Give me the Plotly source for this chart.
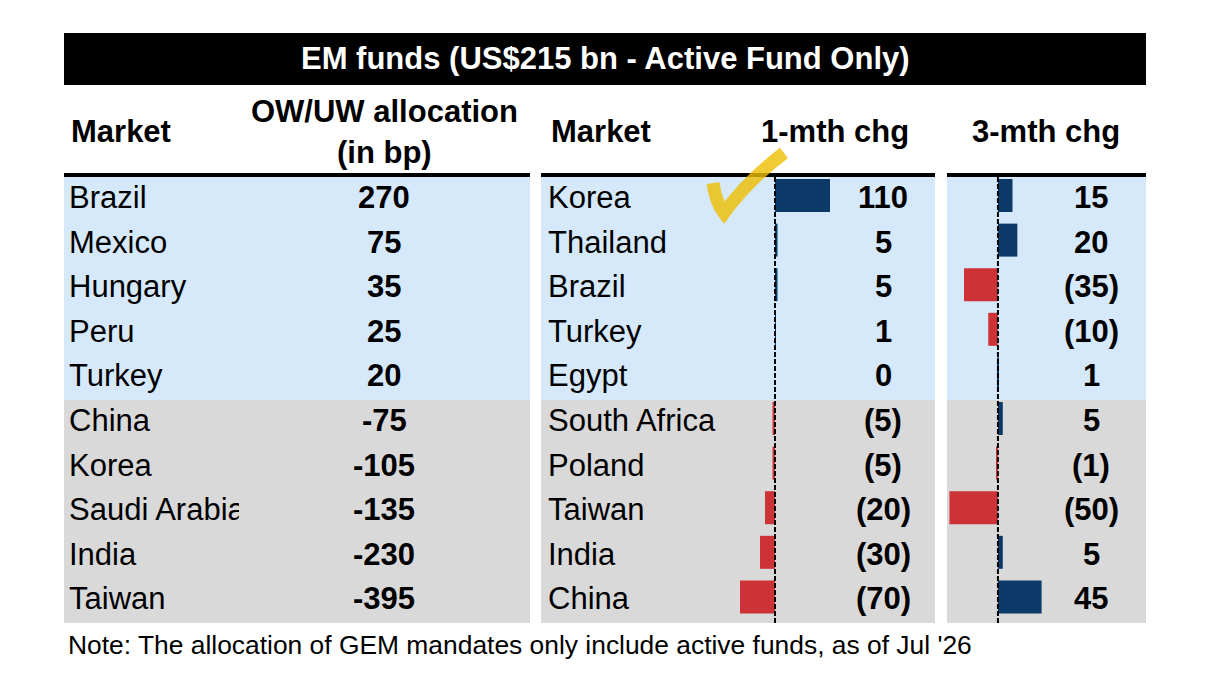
import plotly.graph_objects as go

# the page body adds an 8px margin, so the figure is a little smaller than the window
W, H = 1190, 663
OFF = 8

# OW/UW allocation block
alloc_markets = ["Brazil", "Mexico", "Hungary", "Peru", "Turkey",
                 "China", "Korea", "Saudi Arabia", "India", "Taiwan"]
alloc_bp = [270, 75, 35, 25, 20, -75, -105, -135, -230, -395]

# change block
chg_markets = ["Korea", "Thailand", "Brazil", "Turkey", "Egypt",
               "South Africa", "Poland", "Taiwan", "India", "China"]
chg_1m = [110, 5, 5, 1, 0, -5, -5, -20, -30, -70]
chg_3m = [15, 20, -35, -10, 1, 5, -1, -50, 5, 45]

title = "EM funds (US$215 bn - Active Fund Only)"
note = "Note: The allocation of GEM mandates only include active funds, as of Jul '26"

FONT = "Liberation Sans"
BLUE_BG = "#d6e9fb"
GREY_BG = "#d9d9d9"
POS = "#0b3a68"
NEG = "#cc3236"


def px(x):
    # window pixel -> paper x
    return (x - OFF) / W


def py(y):
    # window pixel -> paper y
    return 1 - (y - OFF) / H


def fmt_chg(v):
    return "(%d)" % -v if v < 0 else str(v)


rows = list(range(len(alloc_markets)))
n_top = 5  # overweight rows shaded blue

# panels in window pixels: left, middle, right
panels = [(64, 530), (541, 935), (947, 1146)]
row_top, row_bot = 177, 623
row_h = (row_bot - row_top) / len(rows)

fig = go.Figure()

for vals, xa, ya in [(chg_1m, "x2", "y2"), (chg_3m, "x3", "y3")]:
    fig.add_trace(go.Bar(
        x=vals, y=rows, orientation="h", xaxis=xa, yaxis=ya,
        marker=dict(color=[POS if v >= 0 else NEG for v in vals], line_width=0),
        width=0.74, offset=-0.455, hoverinfo="skip",
    ))

shapes = []
# title bar
shapes.append(dict(type="rect", xref="paper", yref="paper", layer="below",
                   x0=px(64), x1=px(1146), y0=py(85), y1=py(33),
                   fillcolor="black", line_width=0))
for (a, b) in panels:
    # row shading
    shapes.append(dict(type="rect", xref="paper", yref="paper", layer="below",
                       x0=px(a), x1=px(b), y0=py(row_top + n_top * row_h), y1=py(row_top),
                       fillcolor=BLUE_BG, line_width=0))
    shapes.append(dict(type="rect", xref="paper", yref="paper", layer="below",
                       x0=px(a), x1=px(b), y0=py(row_bot), y1=py(row_top + n_top * row_h),
                       fillcolor=GREY_BG, line_width=0))
    # header rule
    shapes.append(dict(type="line", xref="paper", yref="paper",
                       x0=px(a), x1=px(b), y0=py(175), y1=py(175),
                       line=dict(color="black", width=4)))

# zero lines
for ax in ["x2", "x3"]:
    shapes.append(dict(type="line", xref=ax, yref="paper", x0=0, x1=0,
                       y0=py(row_bot), y1=py(row_top),
                       line=dict(color="black", width=2, dash="5px,2px")))

# hand-drawn tick mark
path = "M %f,%f Q %f,%f %f,%f Q %f,%f %f,%f" % (
    px(713), py(183), px(716), py(203), px(724), py(213),
    px(748), py(180), px(784), py(153))
shapes.append(dict(type="path", xref="paper", yref="paper", path=path,
                   line=dict(color="rgba(236,190,0,0.8)", width=13)))

ann = []


def text(x, y, s, size=31, bold=False, color="black", anchor="center", yref="paper", **kw):
    ann.append(dict(x=x, y=y, xref="paper", yref=yref, text="<b>%s</b>" % s if bold else s,
                    showarrow=False, xanchor=anchor, yanchor="middle",
                    font=dict(family=FONT, size=size, color=color), **kw))


text(px(605), py(59), title, bold=True, color="white")
text(px(69), py(131), "Market", bold=True, anchor="left")
text(px(384), py(111), "OW/UW allocation", bold=True)
text(px(384), py(152), "(in bp)", bold=True)
text(px(549), py(131), "Market", bold=True, anchor="left")
text(px(835), py(131), "1-mth chg", bold=True)
text(px(1046), py(131), "3-mth chg", bold=True)

for i in rows:
    yy = i - 0.04
    text(px(67), yy, alloc_markets[i], anchor="left", yref="y2",
         width=170, align="left")
    text(px(384), yy, str(alloc_bp[i]), bold=True, yref="y2")
    text(px(546), yy, chg_markets[i], anchor="left", yref="y2")
    text(px(883), yy, fmt_chg(chg_1m[i]), bold=True, yref="y2")
    text(px(1091), yy, fmt_chg(chg_3m[i]), bold=True, yref="y2")

text(px(66), py(645), note, size=26.4, anchor="left")

ydom = [py(row_bot), py(row_top)]
hidden = dict(visible=False, showgrid=False, zeroline=False, fixedrange=True)
fig.update_layout(
    width=W, height=H,
    margin=dict(l=0, r=0, t=0, b=0),
    paper_bgcolor="white", plot_bgcolor="rgba(0,0,0,0)",
    showlegend=False,
    shapes=shapes, annotations=ann,
    xaxis=dict(hidden, domain=[0, 1]),
    yaxis=dict(hidden, domain=[0, 1]),
    xaxis2=dict(hidden, domain=[px(541), px(935)], range=[-468, 320], anchor="y2"),
    yaxis2=dict(hidden, domain=ydom, range=[9.5, -0.5], anchor="x2"),
    xaxis3=dict(hidden, domain=[px(947), px(1146)], range=[-52.5, 152.6], anchor="y3"),
    yaxis3=dict(hidden, domain=ydom, range=[9.5, -0.5], anchor="x3"),
)

fig.write_html("out.html")
